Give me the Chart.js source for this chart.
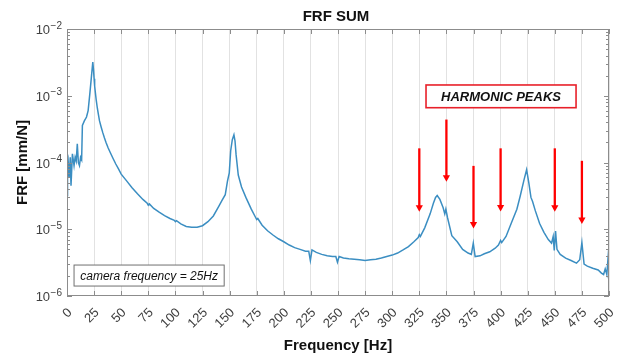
<!DOCTYPE html>
<html><head><meta charset="utf-8">
<script src="https://cdn.jsdelivr.net/npm/chart.js@4.4.0/dist/chart.umd.min.js"></script>
<style>html,body{margin:0;padding:0;background:#fff}</style>
</head><body>
<canvas id="c" width="624" height="356"></canvas>
<script>
const chartTitle = 'FRF SUM';
const xAxisTitle = 'Frequency [Hz]';
const yAxisTitle = 'FRF [mm/N]';
const xTicks = [0,25,50,75,100,125,150,175,200,225,250,275,300,325,350,375,400,425,450,475,500];
const yTickValues = [1e-6,1e-5,1e-4,1e-3,1e-2];
const yTickExponents = ['\u22126','\u22125','\u22124','\u22123','\u22122'];

const freq = [0,0.5,1,2,3,3.7,5,6.5,7.5,8.5,9.5,10.5,11.5,12.5,13.5,14.2,16,18,19.5,21,22.5,23.8,24.5,25,25.5,26.5,27,28,29,30,31.5,33,34.5,36,38,40,42.5,45,47.5,50,55,60,65,70,74,75,76,80,85,90,95,99,100,101,105,110,115,120,125,130,135,140,143,146,148,149.7,151,152.5,154,155,156,158,161,165,170,174,175,176,180,185,190,195,200,205,210,215,220,223,224.5,226,230,235,240,245,248,249.5,251,255,260,265,270,275,280,285,290,295,300,305,310,315,320,324,325,326,330,335,338,340,341.5,344,347,348.5,349.5,351,355,360,365,370,373,374.8,376.5,381,385,390,395,398,400,401,405,410,415,418,421.6,424,426,428,429.5,432,436,440,444,447,448.5,449.5,450.7,452,455,460,465,470,473,475,477,480,485,490,493,495,496.5,498,500];
const frf = [3.2e-5,1.0e-4,1.1e-4,6e-5,1.2e-4,4.5e-5,1.35e-4,9e-5,1.2e-4,1.05e-4,1.9e-4,1.0e-4,9e-5,1.2e-4,1.1e-4,3.6e-4,4.2e-4,4.8e-4,6.0e-4,1.05e-3,1.9e-3,3.2e-3,2.4e-3,1.8e-3,1.4e-3,1.0e-3,8.5e-4,6.5e-4,5.2e-4,4.2e-4,3.4e-4,2.8e-4,2.35e-4,2.0e-4,1.65e-4,1.4e-4,1.15e-4,9.5e-5,8e-5,6.7e-5,5.3e-5,4.2e-5,3.4e-5,2.8e-5,2.45e-5,2.3e-5,2.4e-5,2.05e-5,1.8e-5,1.6e-5,1.45e-5,1.36e-5,1.3e-5,1.34e-5,1.2e-5,1.1e-5,1.07e-5,1.07e-5,1.13e-5,1.3e-5,1.58e-5,2.2e-5,2.7e-5,3.3e-5,5.2e-5,7e-5,1.5e-4,2.2e-4,2.6e-4,2.1e-4,1.3e-4,6.5e-5,4.3e-5,3.0e-5,2.0e-5,1.5e-5,1.4e-5,1.45e-5,1.15e-5,9.5e-6,8.2e-6,7.2e-6,6.5e-6,5.8e-6,5.3e-6,5.0e-6,4.7e-6,4.7e-6,3.4e-6,4.9e-6,4.5e-6,4.2e-6,4.0e-6,3.9e-6,3.9e-6,3.2e-6,3.9e-6,3.7e-6,3.6e-6,3.55e-6,3.5e-6,3.4e-6,3.5e-6,3.55e-6,3.7e-6,3.9e-6,4.1e-6,4.4e-6,4.9e-6,5.5e-6,6.5e-6,7.5e-6,8.3e-6,7.8e-6,1.05e-5,1.7e-5,2.45e-5,3.0e-5,3.2e-5,2.8e-5,2.1e-5,1.7e-5,2.0e-5,1.5e-5,8e-6,6.5e-6,5.0e-6,4.4e-6,4.2e-6,6.2e-6,3.9e-6,4.0e-6,4.3e-6,4.6e-6,5.2e-6,5.8e-6,6.8e-6,6.3e-6,7.8e-6,1.25e-5,2.0e-5,3.1e-5,5.5e-5,7.8e-5,5.0e-5,3.0e-5,2.6e-5,1.9e-5,1.22e-5,9e-6,7.0e-6,6.2e-6,7.8e-6,4.8e-6,9.4e-6,5.0e-6,4.2e-6,3.7e-6,3.4e-6,3.1e-6,3.5e-6,6.3e-6,3.0e-6,2.8e-6,2.6e-6,2.45e-6,2.2e-6,2.1e-6,2.55e-6,2.1e-6,5.8e-6];

const arrowFreq = [325,350,375,400,450,475];
const arrowTop = [1.63e-4,4.4e-4,8.9e-5,1.63e-4,1.63e-4,1.06e-4];
const arrowTip = [1.83e-5,5.15e-5,1.03e-5,1.85e-5,1.83e-5,1.2e-5];

const harmonicLabel = 'HARMONIC PEAKS';
const harmonicBoxFreq = [331.2, 469.6];
const harmonicBoxFrf = [1.45e-3, 6.62e-4];
const cameraLabel = 'camera frequency = 25Hz';
const cameraBoxFreq = [6.5, 145];
const cameraBoxFrf = [2.91e-6, 1.41e-6];

const FONT = 'Liberation Sans, Arial, sans-serif';

const decor = {
  id: 'decor',
  afterDraw(chart) {
    const {ctx, chartArea: a, scales: {x, y}} = chart;
    ctx.save();
    function box(fx, vy, stroke, lw, text, font) {
      const px0 = x.getPixelForValue(fx[0]), px1 = x.getPixelForValue(fx[1]);
      const py0 = y.getPixelForValue(vy[0]), py1 = y.getPixelForValue(vy[1]);
      ctx.fillStyle = '#fff';
      ctx.fillRect(px0, py0, px1 - px0, py1 - py0);
      ctx.strokeStyle = stroke; ctx.lineWidth = lw;
      ctx.strokeRect(px0, py0, px1 - px0, py1 - py0);
      ctx.font = font; ctx.fillStyle = '#111';
      ctx.textAlign = 'center'; ctx.textBaseline = 'middle';
      ctx.fillText(text, (px0 + px1) / 2, (py0 + py1) / 2 + 1);
    }
    box(harmonicBoxFreq, harmonicBoxFrf, '#e8202a', 1.6, harmonicLabel, 'italic bold 13px ' + FONT);
    box(cameraBoxFreq, cameraBoxFrf, '#707070', 1, cameraLabel, 'italic 12px ' + FONT);

    ctx.strokeStyle = '#ff0000'; ctx.fillStyle = '#ff0000'; ctx.lineWidth = 2.3;
    arrowFreq.forEach((f, i) => {
      const px = x.getPixelForValue(f);
      const pt = y.getPixelForValue(arrowTop[i]);
      const pb = y.getPixelForValue(arrowTip[i]);
      ctx.beginPath(); ctx.moveTo(px, pt); ctx.lineTo(px, pb - 5); ctx.stroke();
      ctx.beginPath(); ctx.moveTo(px - 3.6, pb - 6.5); ctx.lineTo(px + 3.6, pb - 6.5); ctx.lineTo(px, pb); ctx.closePath(); ctx.fill();
    });

    ctx.strokeStyle = '#8c8c8c'; ctx.lineWidth = 1;
    ctx.strokeRect(a.left + 0.5, a.top + 0.5, a.right - a.left - 1, a.bottom - a.top - 1);
    ctx.beginPath();
    xTicks.forEach(v => {
      const px = Math.round(x.getPixelForValue(v)) + 0.5;
      ctx.moveTo(px, a.bottom); ctx.lineTo(px, a.bottom - 5);
      ctx.moveTo(px, a.top); ctx.lineTo(px, a.top + 5);
    });
    yTickValues.forEach((v, i) => {
      const mult = i < yTickValues.length - 1 ? [1,2,3,4,5,6,7,8,9] : [1];
      mult.forEach(m => {
        const py = Math.round(y.getPixelForValue(v * m)) + 0.5;
        const len = m === 1 ? 5 : 3;
        ctx.moveTo(a.left, py); ctx.lineTo(a.left + len, py);
        ctx.moveTo(a.right, py); ctx.lineTo(a.right - len, py);
      });
    });
    ctx.stroke();

    ctx.fillStyle = '#404040';
    yTickValues.forEach((v, i) => {
      const py = y.getPixelForValue(v);
      ctx.font = '10px ' + FONT;
      const ew = ctx.measureText(yTickExponents[i]).width;
      ctx.textAlign = 'right'; ctx.textBaseline = 'alphabetic';
      ctx.fillText(yTickExponents[i], a.left - 5, py - 0.5);
      ctx.font = '13px ' + FONT; ctx.textBaseline = 'middle';
      ctx.fillText('10', a.left - 5 - ew - 0.5, py + 1.5);
    });

    ctx.fillStyle = '#111';
    ctx.font = 'bold 15px ' + FONT;
    ctx.textAlign = 'center'; ctx.textBaseline = 'middle';
    ctx.fillText(chartTitle, (a.left + a.right) / 2 - 2, 16.5);
    ctx.restore();
  }
};

new Chart(document.getElementById('c'), {
  type: 'line',
  data: {
    datasets: [{
      data: freq.map((f, i) => ({x: f, y: frf[i]})),
      borderColor: '#3b8ec2',
      borderWidth: 1.5,
      pointRadius: 0,
      tension: 0,
      fill: false
    }]
  },
  options: {
    responsive: false,
    animation: false,
    devicePixelRatio: 1,
    layout: {padding: {top: 29, right: 15, left: 0, bottom: 0}},
    plugins: {legend: {display: false}, tooltip: {enabled: false}},
    scales: {
      x: {
        type: 'linear', min: 0, max: 500,
        afterBuildTicks(s) { s.ticks = xTicks.map(v => ({value: v})); },
        afterFit(s) { s.height = 60; s.paddingLeft = 0; s.paddingRight = 0; },
        ticks: {
          minRotation: 45, maxRotation: 45, padding: 9, labelOffset: 3, autoSkip: false,
          color: '#404040', font: {family: FONT, size: 13},
          callback: v => String(v)
        },
        grid: {color: '#e2e2e2', drawTicks: false, lineWidth: 1},
        border: {display: false},
        title: {display: true, text: xAxisTitle, color: '#111',
          font: {family: FONT, size: 15, weight: 'bold'}, padding: {top: 0, bottom: 1}}
      },
      y: {
        type: 'logarithmic', min: 1e-6, max: 1e-2,
        afterFit(s) { s.width = 67; s.paddingTop = 0; s.paddingBottom = 0; },
        ticks: {display: false},
        grid: {display: false},
        border: {display: false},
        title: {display: true, text: yAxisTitle, color: '#111',
          font: {family: FONT, size: 15, weight: 'bold'}, padding: {top: 13.5, bottom: 0}}
      }
    }
  },
  plugins: [decor]
});
</script>
</body></html>
